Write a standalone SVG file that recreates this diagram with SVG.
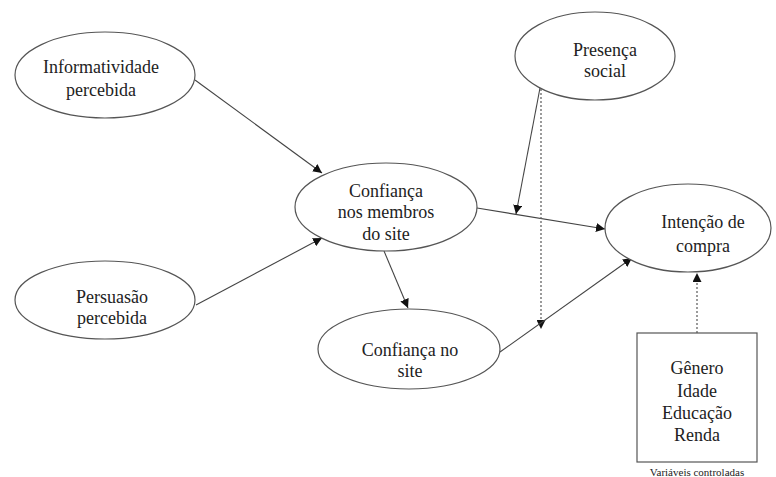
<svg xmlns="http://www.w3.org/2000/svg" width="776" height="477" viewBox="0 0 776 477">
  <style>
    .node { fill: #fff; stroke: #555; stroke-width: 1.2; }
    .lbl { font-family: 'Liberation Serif', 'Times New Roman', 'DejaVu Serif', serif; font-size: 18px; fill: #222; text-anchor: middle; }
    .small { font-family: 'Liberation Serif', 'Times New Roman', 'DejaVu Serif', serif; font-size: 11px; fill: #222; text-anchor: middle; }
    .edge { stroke: #444; stroke-width: 1.1; fill: none; }
    .dotted { stroke: #666; stroke-width: 1.3; stroke-dasharray: 2 2; fill: none; }
  </style>
  <defs>
    <marker id="arrow" viewBox="0 0 10 10" refX="10" refY="5" markerWidth="9" markerHeight="9" markerUnits="userSpaceOnUse" orient="auto">
      <path d="M0,0 L10,5 L0,10 z" fill="#111"/>
    </marker>
  </defs>

  <g id="connectors">
    <line class="edge" x1="195" y1="80" x2="322" y2="173" marker-end="url(#arrow)"/>
    <line class="edge" x1="196" y1="305" x2="322" y2="238" marker-end="url(#arrow)"/>
    <line class="edge" x1="477" y1="208" x2="605" y2="229" marker-end="url(#arrow)"/>
    <line class="edge" x1="540" y1="88" x2="516" y2="214" marker-end="url(#arrow)"/>
    <line class="dotted" x1="541" y1="89" x2="541" y2="329" marker-end="url(#arrow)"/>
    <line class="edge" x1="384" y1="251" x2="408" y2="308" marker-end="url(#arrow)"/>
    <line class="edge" x1="500" y1="352" x2="632" y2="258" marker-end="url(#arrow)"/>
    <line class="dotted" x1="697" y1="333" x2="697" y2="273" marker-end="url(#arrow)"/>
  </g>

  <g id="informatividade" font-family="Liberation Serif, serif">
    <ellipse class="node" cx="105" cy="75" rx="90" ry="43"/>
    <text class="lbl" x="101" y="73">Informatividade</text>
    <text class="lbl" x="101" y="96">percebida</text>
  </g>

  <g id="persuasao">
    <ellipse class="node" cx="105" cy="300" rx="90" ry="39"/>
    <text class="lbl" x="112" y="303">Persuasão</text>
    <text class="lbl" x="112" y="324">percebida</text>
  </g>

  <g id="confianca-membros">
    <ellipse class="node" cx="386" cy="207" rx="91" ry="44"/>
    <text class="lbl" x="386" y="197">Confiança</text>
    <text class="lbl" x="386" y="218">nos membros</text>
    <text class="lbl" x="386" y="240">do site</text>
  </g>

  <g id="presenca-social">
    <ellipse class="node" cx="595" cy="56" rx="80" ry="44"/>
    <text class="lbl" x="605" y="56">Presença</text>
    <text class="lbl" x="605" y="77">social</text>
  </g>

  <g id="confianca-site">
    <ellipse class="node" cx="409" cy="349" rx="91" ry="40"/>
    <text class="lbl" x="410" y="356">Confiança no</text>
    <text class="lbl" x="410" y="377">site</text>
  </g>

  <g id="intencao">
    <ellipse class="node" cx="688" cy="228" rx="83" ry="44"/>
    <text class="lbl" x="703" y="228">Intenção de</text>
    <text class="lbl" x="703" y="252">compra</text>
  </g>

  <g id="controladas">
    <rect class="node" x="637" y="333" width="120" height="129"/>
    <text class="lbl" x="697" y="374">Gênero</text>
    <text class="lbl" x="697" y="397">Idade</text>
    <text class="lbl" x="697" y="419">Educação</text>
    <text class="lbl" x="697" y="441">Renda</text>
    <text class="small" x="697" y="476">Variáveis  controladas</text>
  </g>
</svg>
